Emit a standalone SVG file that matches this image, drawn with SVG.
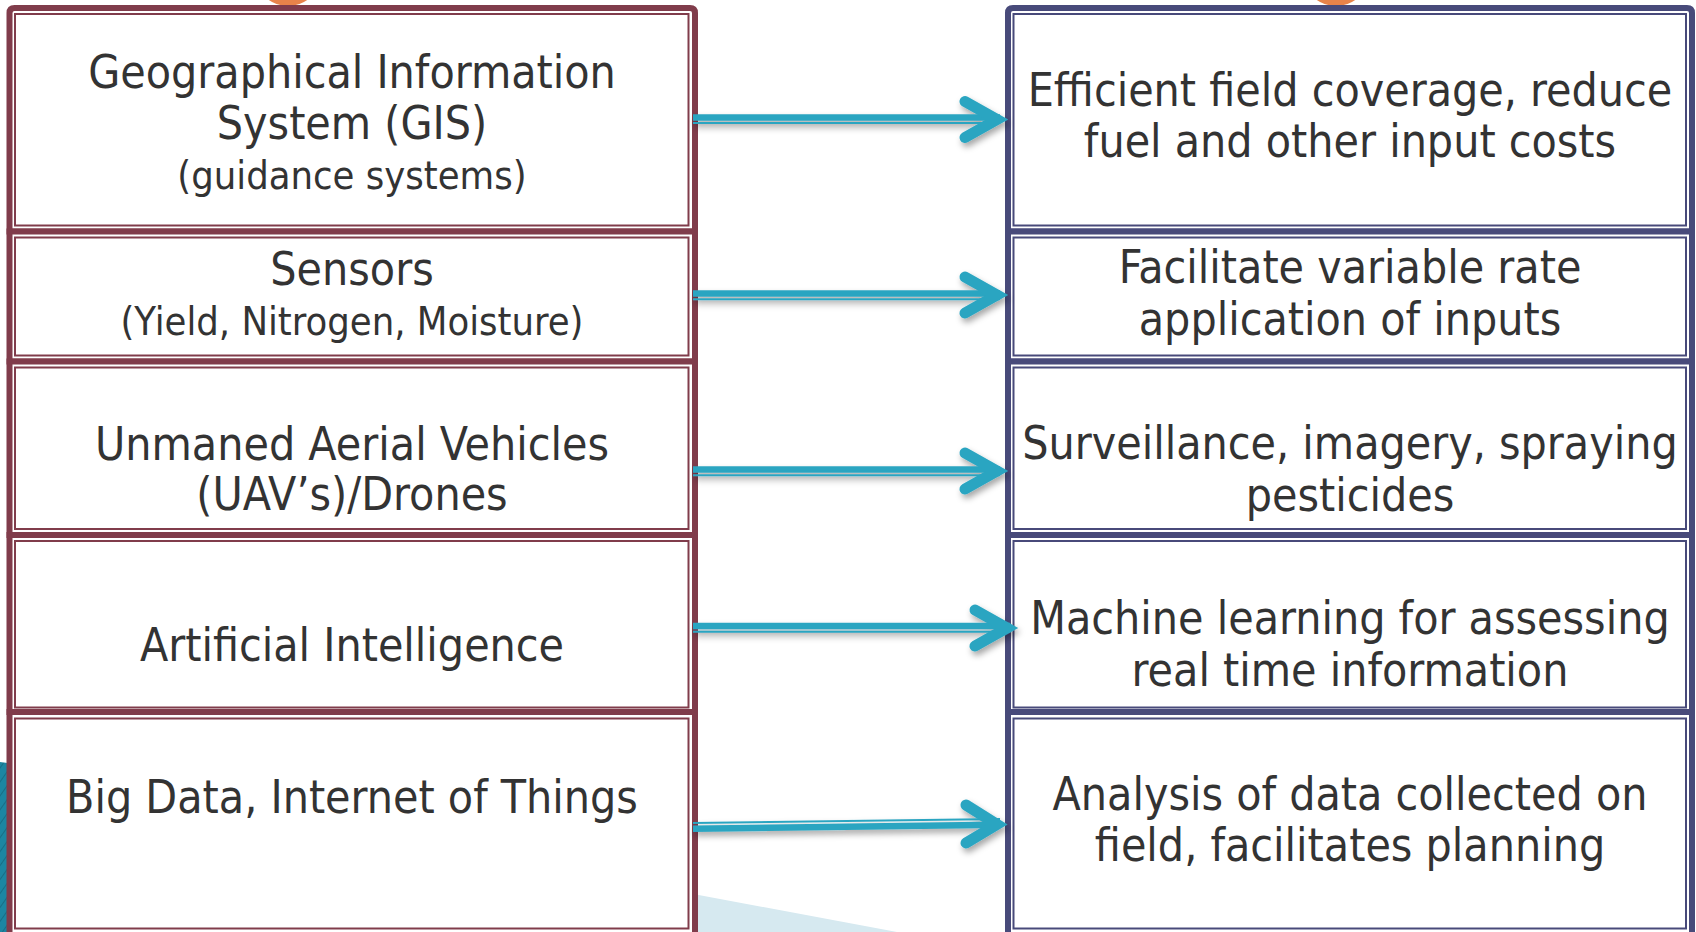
<svg xmlns="http://www.w3.org/2000/svg" width="1696" height="932" viewBox="0 0 1696 932">
  <defs>
    <style>
      .txt { font-family: 'DejaVu Sans Condensed', 'DejaVu Sans', sans-serif; font-stretch: condensed; fill: #333333; text-anchor: middle; }
      .main { font-size: 46px; }
      .small { font-size: 39.5px; }
      .tech-outer { fill: #ffffff; stroke: #803C4B; stroke-width: 6; }
      .tech-inner { fill: none; stroke: #803C4B; stroke-width: 2; }
      .use-outer { fill: #ffffff; stroke: #484A7A; stroke-width: 6; }
      .use-inner { fill: none; stroke: #484A7A; stroke-width: 2; }
      .shaft-thick { stroke: #2CA5C1; stroke-width: 6.5; fill: none; }
      .shaft-thin { stroke: #2CA5C1; stroke-width: 2; fill: none; }
      .head { stroke: #2CA5C1; stroke-width: 11; fill: none; stroke-linecap: round; stroke-linejoin: miter; }
    </style>
    <filter id="arrowShadow" x="-10%" y="-50%" width="120%" height="200%">
      <feDropShadow dx="2" dy="4" stdDeviation="3" flood-color="#000000" flood-opacity="0.35"/>
    </filter>
    <pattern id="stripes" width="8" height="8" patternUnits="userSpaceOnUse" patternTransform="rotate(35)">
      <rect width="8" height="8" fill="#1C86A2"/>
      <line x1="0" y1="0" x2="0" y2="8" stroke="#176E86" stroke-width="2"/>
    </pattern>
  </defs>

  <!-- backdrop decoration -->
  <g id="backdrop">
    <ellipse cx="288" cy="-20" rx="30" ry="26" fill="#E8834A"/>
    <ellipse cx="1336" cy="-20" rx="30" ry="26" fill="#E8834A"/>
    <polygon points="0,762 60,770 60,932 0,932" fill="url(#stripes)"/>
    <polygon points="680,891.5 897,932 680,932" fill="#D6E9F0"/>
  </g>

  <!-- technology column -->
  <g id="tech-gis">
    <path class="tech-outer" d="M9.5,231.5 V13 Q9.5,8 14.5,8 H690 Q695,8 695,13 V231.5 Z"/>
    <rect class="tech-inner" x="15" y="14" width="673.5" height="211.5"/>
    <text class="txt main" x="352" y="88">Geographical Information</text>
    <text class="txt main" x="352" y="139">System (GIS)</text>
    <text class="txt small" x="352" y="189">(guidance systems)</text>
  </g>
  <g id="tech-sensors">
    <rect class="tech-outer" x="9.5" y="231.5" width="685.5" height="130"/>
    <rect class="tech-inner" x="15" y="237.5" width="673.5" height="118"/>
    <text class="txt main" x="352" y="285">Sensors</text>
    <text class="txt small" x="352" y="335">(Yield, Nitrogen, Moisture)</text>
  </g>
  <g id="tech-uav">
    <rect class="tech-outer" x="9.5" y="361.5" width="685.5" height="173.5"/>
    <rect class="tech-inner" x="15" y="367.5" width="673.5" height="161.5"/>
    <text class="txt main" x="352" y="460">Unmaned Aerial Vehicles</text>
    <text class="txt main" x="352" y="510">(UAV’s)/Drones</text>
  </g>
  <g id="tech-ai">
    <rect class="tech-outer" x="9.5" y="535" width="685.5" height="177"/>
    <rect class="tech-inner" x="15" y="541" width="673.5" height="166.5"/>
    <text class="txt main" x="352" y="661">Artificial Intelligence</text>
  </g>
  <g id="tech-bigdata">
    <rect class="tech-outer" x="9.5" y="712" width="685.5" height="223"/>
    <rect class="tech-inner" x="15" y="718.5" width="673.5" height="210"/>
    <text class="txt main" x="352" y="813">Big Data, Internet of Things</text>
  </g>

  <!-- benefit column -->
  <g id="use-coverage">
    <path class="use-outer" d="M1008,231.5 V13 Q1008,8 1013,8 H1687 Q1692,8 1692,13 V231.5 Z"/>
    <rect class="use-inner" x="1013.5" y="14" width="672.5" height="211.5"/>
    <text class="txt main" x="1350" y="106">Efficient field coverage, reduce</text>
    <text class="txt main" x="1350" y="157">fuel and other input costs</text>
  </g>
  <g id="use-variable-rate">
    <rect class="use-outer" x="1008" y="231.5" width="684" height="130"/>
    <rect class="use-inner" x="1013.5" y="237.5" width="672.5" height="118"/>
    <text class="txt main" x="1350" y="283">Facilitate variable rate</text>
    <text class="txt main" x="1350" y="335">application of inputs</text>
  </g>
  <g id="use-surveillance">
    <rect class="use-outer" x="1008" y="361.5" width="684" height="173.5"/>
    <rect class="use-inner" x="1013.5" y="367.5" width="672.5" height="161.5"/>
    <text class="txt main" x="1350" y="459">Surveillance, imagery, spraying</text>
    <text class="txt main" x="1350" y="511">pesticides</text>
  </g>
  <g id="use-ml">
    <rect class="use-outer" x="1008" y="535" width="684" height="177"/>
    <rect class="use-inner" x="1013.5" y="541" width="672.5" height="166.5"/>
    <text class="txt main" x="1350" y="634">Machine learning for assessing</text>
    <text class="txt main" x="1350" y="686">real time information</text>
  </g>
  <g id="use-analysis">
    <rect class="use-outer" x="1008" y="712" width="684" height="223"/>
    <rect class="use-inner" x="1013.5" y="718.5" width="672.5" height="210"/>
    <text class="txt main" x="1350" y="810">Analysis of data collected on</text>
    <text class="txt main" x="1350" y="861">field, facilitates planning</text>
  </g>

  <!-- connectors -->
  <g id="connectors" filter="url(#arrowShadow)">
    <g id="arrow-gis">
      <line class="shaft-thick" x1="693" y1="117.5" x2="1000" y2="117.5"/>
      <line class="shaft-thin" x1="693" y1="123" x2="1000" y2="123"/>
      <polyline class="head" points="965,101.5 997,119.5 965,137.5"/>
    </g>
    <g id="arrow-sensors">
      <line class="shaft-thick" x1="693" y1="293.4" x2="1000" y2="293.4"/>
      <line class="shaft-thin" x1="693" y1="299.2" x2="1000" y2="299.2"/>
      <polyline class="head" points="965,277 997,295 965,313"/>
    </g>
    <g id="arrow-uav">
      <line class="shaft-thick" x1="693" y1="469.5" x2="1000" y2="469.5"/>
      <line class="shaft-thin" x1="693" y1="475.3" x2="1000" y2="475.3"/>
      <polyline class="head" points="965,453 997,471 965,489"/>
    </g>
    <g id="arrow-ai">
      <line class="shaft-thick" x1="693" y1="626" x2="1010" y2="626"/>
      <line class="shaft-thin" x1="693" y1="631.8" x2="1010" y2="631.8"/>
      <polyline class="head" points="975,610 1007,628 975,646"/>
    </g>
    <g id="arrow-bigdata">
      <line class="shaft-thin" x1="693" y1="823" x2="1000" y2="819"/>
      <line class="shaft-thick" x1="693" y1="828.7" x2="1000" y2="824.7"/>
      <polyline class="head" points="966,805 997,824.5 966,843"/>
    </g>
  </g>
</svg>
